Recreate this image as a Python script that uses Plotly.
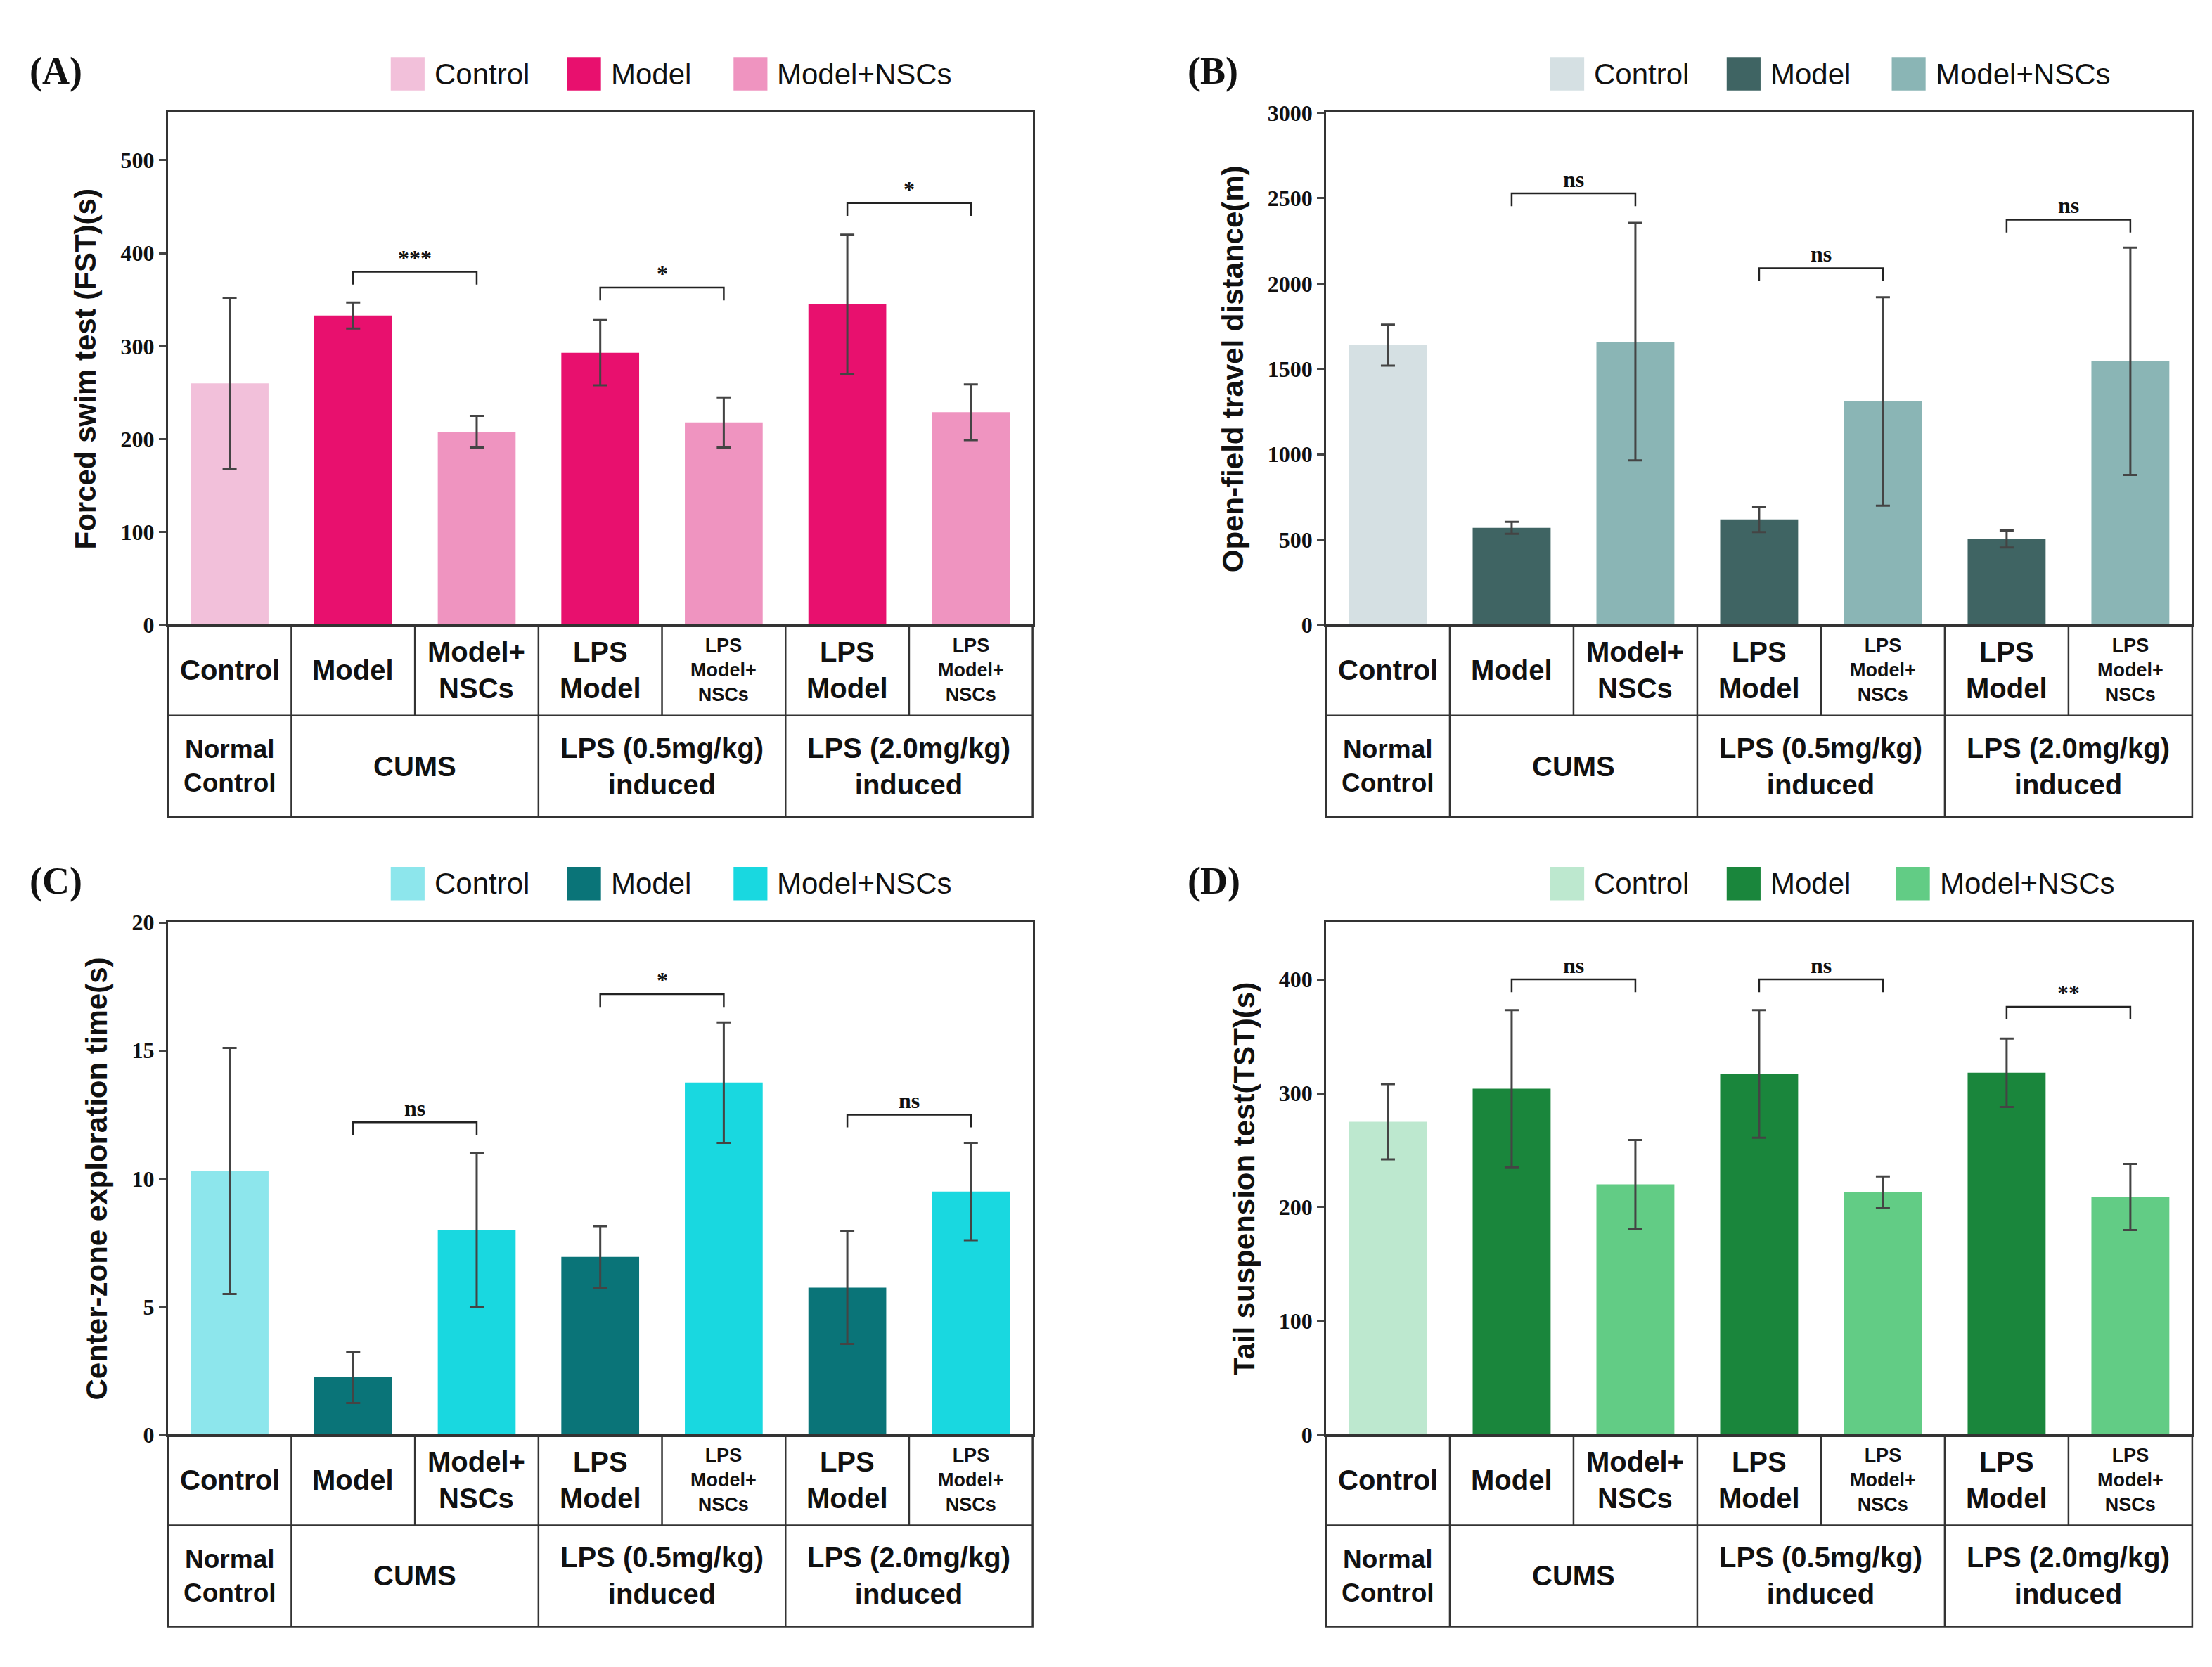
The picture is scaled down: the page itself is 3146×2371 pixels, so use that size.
import plotly.graph_objects as go

# display coords were read at ~half scale; paper fractions come from them
W, H = 3146, 2371

groups = ["Control", "Model", "Model+NSCs"]
col_labels = ["Control", "Model", "Model+<br>NSCs", "LPS<br>Model", "LPS<br>Model+<br>NSCs", "LPS<br>Model", "LPS<br>Model+<br>NSCs"]
col_small = [False, False, False, False, True, False, True]
group_labels = ["Normal<br>Control", "CUMS", "LPS (0.5mg/kg)<br>induced", "LPS (2.0mg/kg)<br>induced"]
group_spans = [(0, 1), (1, 3), (3, 5), (5, 7)]
bar_group = [0, 1, 2, 1, 2, 1, 2]

fst_mean = [260, 333, 208, 293, 218, 345, 229]
fst_err = [92, 14, 17, 35, 27, 75, 30]
fst_sig = [(1, 2, 380, "***"), (3, 4, 363, "*"), (5, 6, 454, "*")]

oft_mean = [1640, 570, 1660, 620, 1310, 505, 1545]
oft_err = [120, 35, 695, 75, 610, 50, 665]
oft_sig = [(1, 2, 2528, "ns"), (3, 4, 2090, "ns"), (5, 6, 2374, "ns")]

cz_mean = [10.3, 2.25, 8.0, 6.95, 13.75, 5.75, 9.5]
cz_err = [4.8, 1.0, 3.0, 1.2, 2.35, 2.2, 1.9]
cz_sig = [(1, 2, 12.2, "ns"), (3, 4, 17.2, "*"), (5, 6, 12.5, "ns")]

tst_mean = [275, 304, 220, 317, 213, 318, 209]
tst_err = [33, 69, 39, 56, 14, 30, 29]
tst_sig = [(1, 2, 400, "ns"), (3, 4, 400, "ns"), (5, 6, 376, "**")]

panels = [
    dict(tag="(A)", mean=fst_mean, err=fst_err, sig=fst_sig, yr=551, dt=100,
         title="Forced swim test (FST)(s)", x0=115, x1=728, y0=68, leg=[273, 398, 516],
         colors=["#f2c0da", "#e8106e", "#ef94c0"]),
    dict(tag="(B)", mean=oft_mean, err=oft_err, sig=oft_sig, yr=3000, dt=500,
         title="Open-field travel distance(m)", x0=936, x1=1550, y0=68, leg=[1095, 1220, 1337],
         colors=["#d5e0e3", "#3f6463", "#8ab5b5"]),
    dict(tag="(C)", mean=cz_mean, err=cz_err, sig=cz_sig, yr=20, dt=5,
         title="Center-zone exploration time(s)", x0=115, x1=728, y0=651, leg=[273, 398, 516],
         colors=["#8de6ec", "#0a7478", "#19d8e0"]),
    dict(tag="(D)", mean=tst_mean, err=tst_err, sig=tst_sig, yr=450, dt=100,
         title="Tail suspension test(TST)(s)", x0=936, x1=1550, y0=651, leg=[1095, 1220, 1340],
         colors=["#bde8cf", "#1a863c", "#62cc85"]),
]

def px(x):
    return x / 1568

def py(y):
    return 1 - y / 1182

fig = go.Figure()
shapes, annos = [], []
line_c = "#333333"

def text(x, y, s, size, family="Liberation Sans", xanchor="center", yanchor="middle", ref=("paper", "paper")):
    annos.append(dict(x=x, y=y, xref=ref[0], yref=ref[1], text=s, showarrow=False,
                      xanchor=xanchor, yanchor=yanchor,
                      font=dict(family=family, size=size, color="#111")))

for i, p in enumerate(panels, start=1):
    xa, ya = f"x{i}", f"y{i}"
    yb = p["y0"] + 369
    fig.update_layout({
        f"xaxis{i}": dict(domain=[px(p["x0"]), px(p["x1"])], range=[-0.5, 6.5], anchor=ya,
                          showticklabels=False, ticks="", showgrid=False, zeroline=False,
                          showline=True, mirror=True, linecolor=line_c, linewidth=2.5),
        f"yaxis{i}": dict(domain=[py(yb), py(p["y0"])], range=[0, p["yr"]], anchor=xa, dtick=p["dt"],
                          ticks="outside", ticklen=10, tickwidth=2.5, showgrid=False, zeroline=False,
                          showline=True, mirror=True, linecolor=line_c, linewidth=2.5,
                          tickprefix="<b>", ticksuffix="</b>",
                          tickfont=dict(family="Liberation Serif", size=32, color="#111"),
                          title=dict(text=f"<b>{p['title']}</b>", standoff=22,
                                     font=dict(family="Liberation Sans", size=42, color="#111"))),
    })
    for g in range(3):
        idx = [k for k in range(7) if bar_group[k] == g]
        fig.add_trace(go.Bar(
            x=idx, y=[p["mean"][k] for k in idx], width=0.63, name=groups[g], showlegend=False,
            marker=dict(color=p["colors"][g], line=dict(width=0)),
            error_y=dict(type="data", array=[p["err"][k] for k in idx], color="#444",
                         thickness=3, width=10),
            xaxis=xa, yaxis=ya))
        # legend drawn by hand so the swatches are as large as the reference
        lx = p["leg"][g]
        ly = p["y0"] - 28
        shapes.append(dict(type="rect", xref="paper", yref="paper", x0=px(lx), x1=px(lx + 24),
                           y0=py(ly + 12), y1=py(ly - 12), fillcolor=p["colors"][g], line=dict(width=0)))
        text(px(lx + 30), py(ly), groups[g], 42, xanchor="left")
    # significance brackets
    tl = 0.025 * p["yr"]
    for a, b, yv, txt in p["sig"]:
        shapes.append(dict(type="path", xref=xa, yref=ya,
                           path=f"M {a},{yv - tl} L {a},{yv} L {b},{yv} L {b},{yv - tl}",
                           line=dict(color="#222", width=2.5)))
        text((a + b) / 2, yv, f"<b>{txt}</b>", 32, family="Liberation Serif", yanchor="bottom", ref=(xa, ya))
    text(px(p["x0"] - 99), py(p["y0"] - 30), f"<b>{p['tag']}</b>", 54, family="Liberation Serif", xanchor="left")
    # table below the plot
    cw = (p["x1"] - p["x0"]) / 7
    r1, r2 = yb + 65, yb + 138
    shapes.append(dict(type="rect", xref="paper", yref="paper", x0=px(p["x0"]), x1=px(p["x1"]),
                       y0=py(r2), y1=py(yb), line=dict(color=line_c, width=2.5)))
    shapes.append(dict(type="line", xref="paper", yref="paper", x0=px(p["x0"]), x1=px(p["x1"]),
                       y0=py(r1), y1=py(r1), line=dict(color=line_c, width=2.5)))
    for k in range(1, 7):
        xv = px(p["x0"] + k * cw)
        shapes.append(dict(type="line", xref="paper", yref="paper", x0=xv, x1=xv,
                           y0=py(r1), y1=py(yb), line=dict(color=line_c, width=2.5)))
    for k, lab in enumerate(col_labels):
        text(px(p["x0"] + (k + 0.5) * cw), py((yb + r1) / 2), f"<b>{lab}</b>", 27 if col_small[k] else 40)
    for (s0, s1), lab in zip(group_spans, group_labels):
        if s0 > 0:
            xv = px(p["x0"] + s0 * cw)
            shapes.append(dict(type="line", xref="paper", yref="paper", x0=xv, x1=xv,
                               y0=py(r2), y1=py(r1), line=dict(color=line_c, width=2.5)))
        text(px(p["x0"] + (s0 + s1) / 2 * cw), py((r1 + r2) / 2), f"<b>{lab}</b>", 40 if s1 - s0 > 1 else 37)

fig.update_layout(width=W, height=H, margin=dict(l=0, r=0, t=0, b=0),
                  plot_bgcolor="white", paper_bgcolor="white", shapes=shapes, annotations=annos,
                  barmode="overlay")
fig.write_html("out.html")
